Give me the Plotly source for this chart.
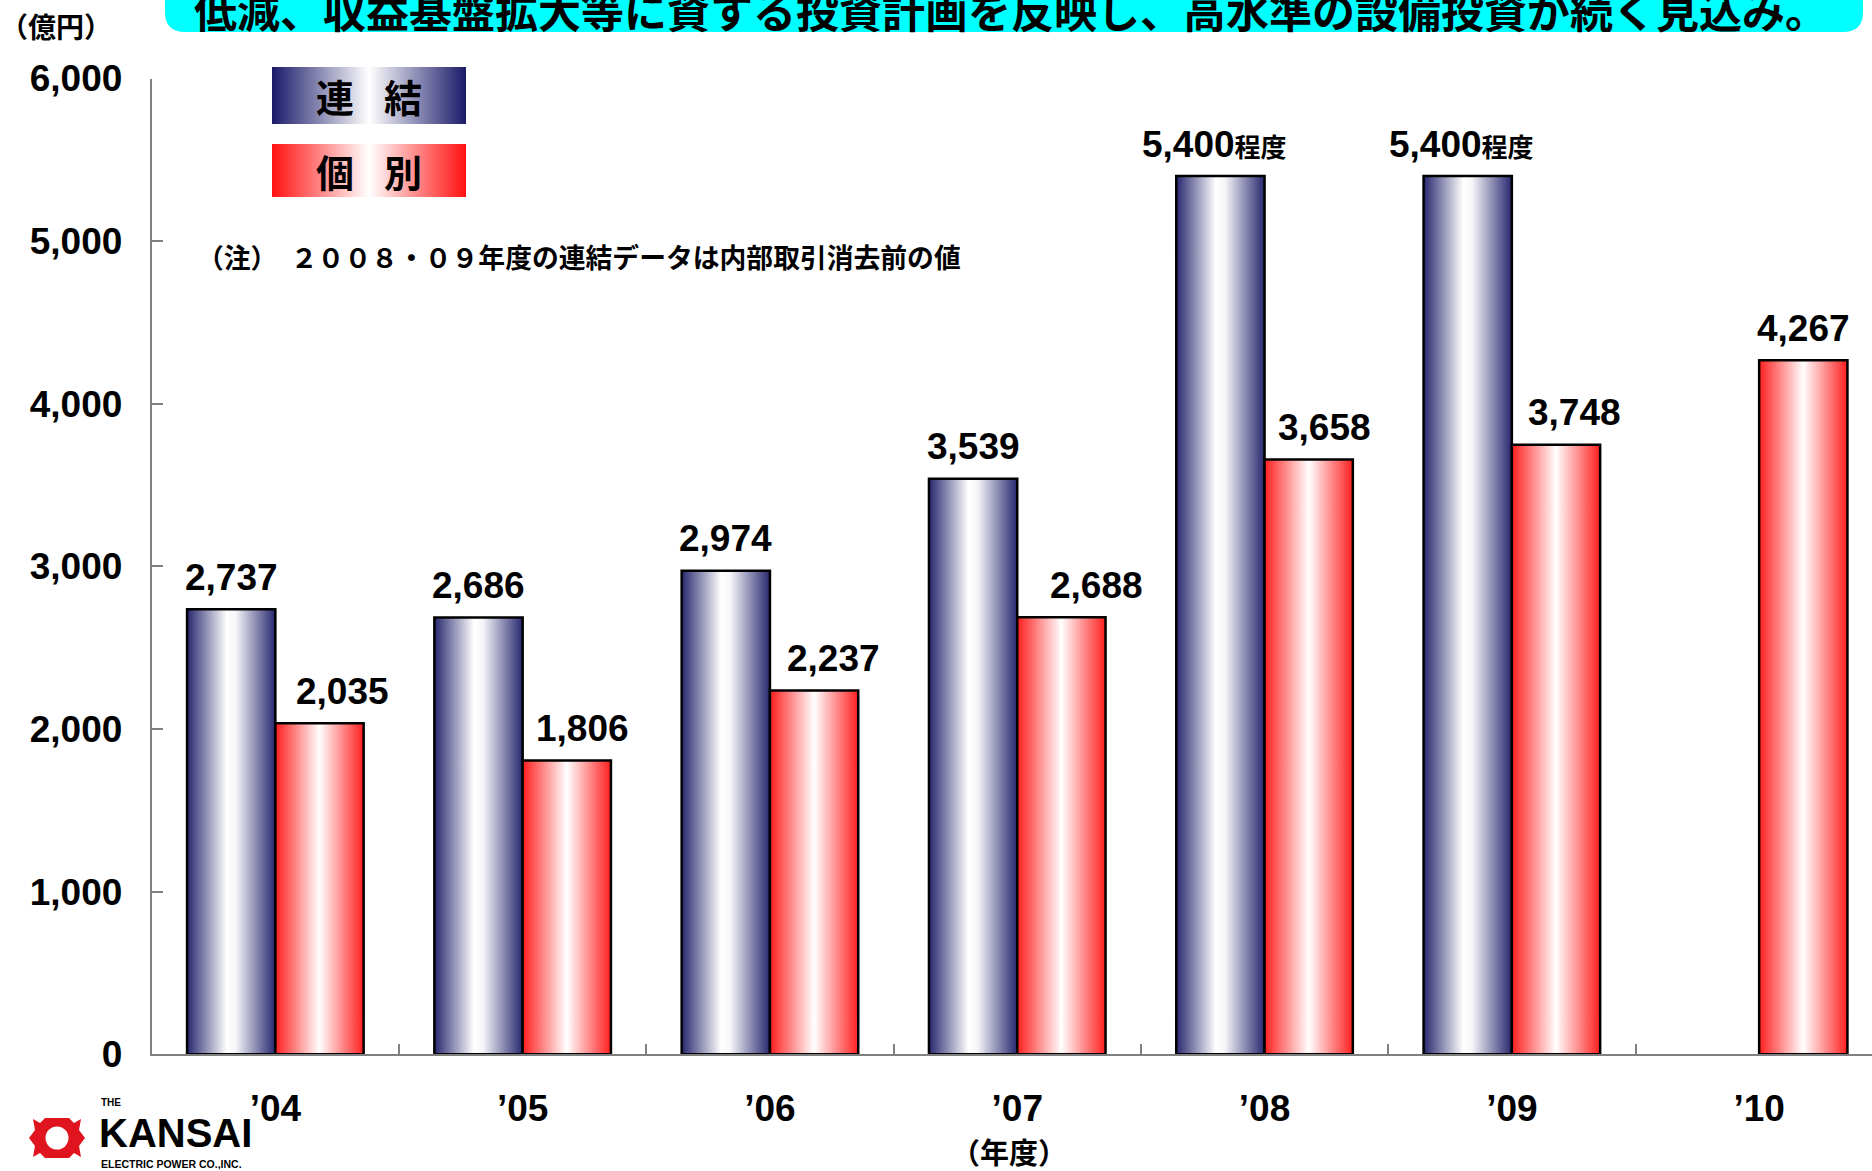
import plotly.graph_objects as go

# ---- data -------------------------------------------------------------
years = ["’04", "’05", "’06", "’07", "’08", "’09", "’10"]
consolidated = [2737, 2686, 2974, 3539, 5400, 5400, None]
consolidated_labels = ["2,737", "2,686", "2,974", "3,539", "5,400程度", "5,400程度", None]
standalone = [2035, 1806, 2237, 2688, 3658, 3748, 4267]
standalone_labels = ["2,035", "1,806", "2,237", "2,688", "3,658", "3,748", "4,267"]
y_ticks = [0, 1000, 2000, 3000, 4000, 5000, 6000]

# ---- styling ----------------------------------------------------------
W, H = 1872, 1171
JP = "Noto Sans CJK JP"
NUM = "Liberation Sans, Arial, sans-serif"
NAVY = "#27276f"
RED = "#ff1e1e"
BLUE_SCALE = [[0, NAVY], [0.45, "#ffffff"], [0.55, "#f6f6fa"], [1, NAVY]]
RED_SCALE = [[0, RED], [0.5, "#ffffff"], [1, RED]]
BAR_W = 0.357
# horizontal nudges (px) for the value labels, so they clear neighbouring bars
cons_label_dx = [0, 0, 0, 0, -6, -6, 0]
stand_label_dx = [23, 16, 19, 35, 16, 19, 0]

fig = go.Figure()


def add_bar(x0, x1, value, scale):
    fig.add_trace(go.Scatter(
        x=[x0, x0, x1, x1, x0], y=[0, value, value, 0, 0],
        mode="lines", fill="toself",
        fillgradient=dict(type="horizontal", colorscale=scale),
        line=dict(color="black", width=2.5),
        hoverinfo="skip", showlegend=False,
        xaxis="x", yaxis="y"))


annotations = []


def value_label(x, value, text, dx):
    if "程度" in text:
        num = text.split("程度")[0]
        text = f"{num}<span style='font-family:{JP};font-size:26px'>程度</span>"
    annotations.append(dict(
        x=x, y=value, xref="x", yref="y", text=f"<b>{text}</b>",
        showarrow=False, yanchor="middle", yshift=32, xshift=dx,
        font=dict(family=NUM, size=37, color="black")))


for i, (c, s) in enumerate(zip(consolidated, standalone)):
    if c is not None:
        add_bar(i - BAR_W, i, c, BLUE_SCALE)
        value_label(i - BAR_W / 2, c, consolidated_labels[i], cons_label_dx[i])
    if s is not None:
        add_bar(i, i + BAR_W, s, RED_SCALE)
        value_label(i + BAR_W / 2, s, standalone_labels[i], stand_label_dx[i])


# ---- key boxes (pixel coordinates on an overlay axis pair) -----------
def key_box(x0, x1, y0, y1, scale):
    fig.add_trace(go.Scatter(
        x=[x0, x0, x1, x1, x0], y=[y0, y1, y1, y0, y0],
        mode="lines", fill="toself",
        fillgradient=dict(type="horizontal", colorscale=scale),
        line=dict(width=0), hoverinfo="skip", showlegend=False,
        xaxis="x2", yaxis="y2"))


key_box(272, 466, 67, 124, [[0, "#1a1a6a"], [0.5, "#ffffff"], [1, "#1a1a6a"]])
key_box(272, 466, 144, 197, [[0, "#ff1010"], [0.5, "#ffffff"], [1, "#ff1010"]])

for ch, cx, cy in [("連", 335, 96), ("結", 403, 96), ("個", 335, 171), ("別", 403, 171)]:
    annotations.append(dict(x=cx / W, y=1 - cy / H, text=f"<b>{ch}</b>",
                            xanchor="center", yanchor="middle",
                            font=dict(family=JP, size=38, color="black")))

# ---- logo mark: red cog with a white centre ------------------------------
gx, gy = 57, 1138
cog = [(-12, -20), (12, -20), (17, -15), (24, -19), (22, -8), (28, 0), (22, 8), (24, 19),
       (17, 15), (12, 20), (-12, 20), (-17, 15), (-24, 19), (-22, 8), (-28, 0), (-22, -8),
       (-24, -19), (-17, -15)]
cog_path = "M" + " L".join(f"{gx + dx},{gy + dy}" for dx, dy in cog) + " Z"
shapes = [
    dict(type="path", path=cog_path, xref="x2", yref="y2",
         fillcolor="#e0141e", line=dict(width=0), layer="above"),
    dict(type="circle", xref="x2", yref="y2", x0=gx - 11.5, x1=gx + 11.5,
         y0=gy - 11.5, y1=gy + 11.5, fillcolor="white", line=dict(width=0), layer="above"),
    # heading banner
    dict(type="path", xref="x2", yref="y2",
         path="M165,-40 L1863,-40 L1863,12 Q1863,32 1843,32 L185,32 Q165,32 165,12 Z",
         fillcolor="#00ffff", line=dict(width=0), layer="above"),
]

annotations += [
    dict(x=99 / W, y=1 - 1102 / H, text="<b>THE</b>", xanchor="left", yanchor="middle",
         font=dict(family=NUM, size=10, color="black")),
    dict(x=97 / W, y=1 - 1133 / H, text="<b>KANSAI</b>", xanchor="left", yanchor="middle",
         font=dict(family=NUM, size=40, color="black")),
    dict(x=99 / W, y=1 - 1164 / H, text="<b>ELECTRIC POWER CO.,INC.</b>", xanchor="left",
         yanchor="middle", font=dict(family=NUM, size=10.5, color="black")),
    dict(x=1009 / W, y=1 - 1151 / H, text="<b>（年度）</b>", xanchor="center", yanchor="middle",
         font=dict(family=JP, size=29, color="black")),
    dict(x=56 / W, y=1 - 26 / H, text="<b>（億円）</b>", xanchor="center", yanchor="middle",
         font=dict(family=JP, size=28, color="black")),
    dict(x=195 / W, y=1 - 257 / H, xanchor="left", yanchor="middle",
         text="<b>（注）　２００８・０９年度の連結データは内部取引消去前の値</b>",
         font=dict(family=JP, size=26.8, color="black")),
    dict(x=192 / W, y=1 - 9 / H, xanchor="left", yanchor="middle",
         text="<b>低減、収益基盤拡大等に資する投資計画を反映し、高水準の設備投資が続く見込み。</b>",
         font=dict(family=JP, size=43, color="black")),
]
for a in annotations:
    a.setdefault("xref", "paper")
    a.setdefault("yref", "paper")
    a.setdefault("showarrow", False)

# ---- layout -------------------------------------------------------------
x_left = 151.7
x_unit = 247.3
y_top, y_zero = 78.5, 1054.3

fig.update_layout(
    width=W, height=H,
    margin=dict(l=0, r=0, t=0, b=0, autoexpand=False),
    paper_bgcolor="white", plot_bgcolor="rgba(0,0,0,0)",
    showlegend=False,
    xaxis=dict(
        domain=[x_left / W, 1], range=[-0.5, -0.5 + (W - x_left) / x_unit],
        automargin=False,
        tickmode="array", tickvals=list(range(len(years))), ticktext=years,
        ticks="inside", ticklen=0, ticklabelstandoff=20,
        tickfont=dict(family=NUM, size=37, color="black", weight="bold"),
        minor=dict(tickmode="array", tickvals=[i + 0.5 for i in range(len(years) - 1)],
                   ticks="inside", ticklen=10, tickcolor="#808080", tickwidth=2),
        showline=True, linecolor="#808080", linewidth=2,
        showgrid=False, zeroline=False, fixedrange=True),
    yaxis=dict(
        domain=[1 - y_zero / H, 1 - y_top / H], range=[0, 6000],
        automargin=False,
        tickmode="array", tickvals=y_ticks, tickformat=",d",
        ticks="inside", ticklen=11, tickcolor="#808080", tickwidth=2,
        ticklabelstandoff=20,
        tickfont=dict(family=NUM, size=37, color="black", weight="bold"),
        showline=True, linecolor="#808080", linewidth=2,
        showgrid=False, zeroline=False, fixedrange=True),
    xaxis2=dict(domain=[0, 1], range=[0, W], anchor="y2", visible=False,
                automargin=False, fixedrange=True),
    yaxis2=dict(domain=[0, 1], range=[H, 0], anchor="x2", visible=False,
                automargin=False, fixedrange=True),
    shapes=shapes,
    annotations=annotations,
)

fig.write_html("out.html")
